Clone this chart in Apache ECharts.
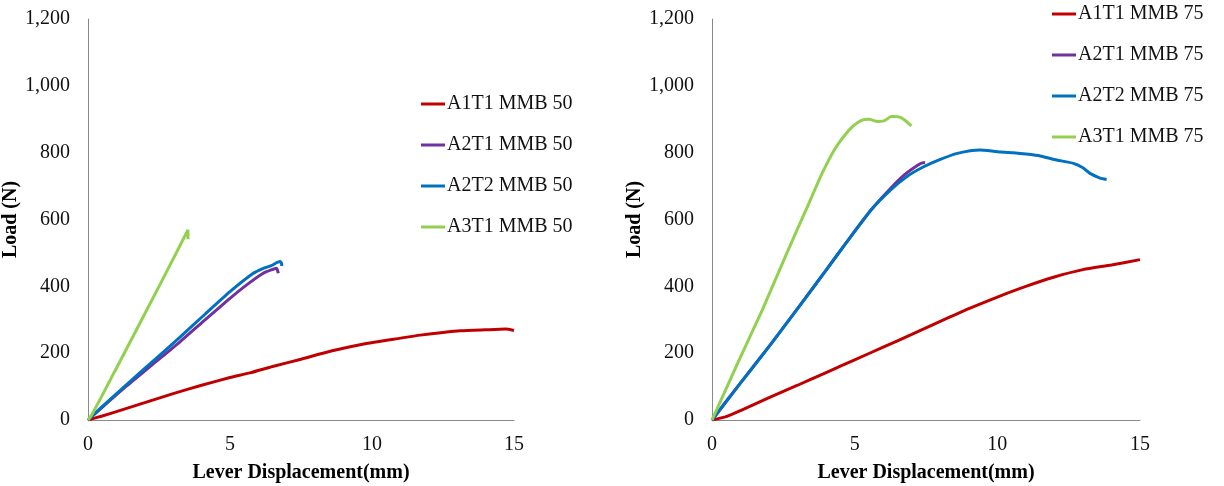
<!DOCTYPE html>
<html>
<head>
<meta charset="utf-8">
<script src="https://cdn.jsdelivr.net/npm/echarts@6/dist/echarts.min.js"></script>
<style>html,body{margin:0;padding:0;background:#fff}#c{width:1224px;height:486px}</style>
</head>
<body>
<div id="c"></div>
<script>
// ---- data ----
var xTicks = [0, 5, 10, 15];
var yTicks = [0, 200, 400, 600, 800, 1000, 1200];
var names50 = ['A1T1 MMB 50', 'A2T1 MMB 50', 'A2T2 MMB 50', 'A3T1 MMB 50'];
var names75 = ['A1T1 MMB 75', 'A2T1 MMB 75', 'A2T2 MMB 75', 'A3T1 MMB 75'];

var a1t1_50 = [[0,0],[0.5,12],[1,25],[2,52],[3,79],[4,104],[5,127],[5.7,141],[6.5,160],[7.5,182],[8.6,207],[9.8,229],[11,245],[11.7,254],[12.5,262],[13.1,267],[14,270],[14.7,272],[15,268]];
var a2t1_50 = [[0,0],[0.5,38],[1.36,102],[2.3,168],[3.24,234],[4.1,298],[5.0,364],[5.6,405],[6.17,439],[6.45,449],[6.64,454],[6.7,439]];
var a2t2_50 = [[0,0],[0.5,40],[1.36,106],[2.3,177],[3.24,248],[4.1,315],[5.0,384],[5.82,439],[6.17,454],[6.45,462],[6.76,474],[6.82,468],[6.82,461]];
var a3t1_50 = [[0,0],[0.15,18],[1,155],[2,318],[3,482],[3.52,569],[3.52,541]];

var a1t1_75 = [[0,0],[0.5,10],[1,28],[2,67],[3,104],[4,142],[5,180],[6,218],[7,256],[8,295],[9,333],[10,368],[11,400],[12,428],[13,450],[14,464],[15,480]];
var a2t1_75 = [[0,0],[0.9,100],[2.07,228],[3.24,361],[3.96,444],[4.7,530],[5.58,629],[6.28,695],[6.75,734],[7.22,763],[7.39,770],[7.47,770]];
var a2t2_75 = [[0,0],[0.9,100],[2.07,228],[3.24,361],[3.96,444],[4.7,530],[5.58,629],[6.28,690],[6.82,728],[7.4,757],[8.0,780],[8.6,798],[9.39,808],[10.0,803],[10.56,800],[11.1,795],[11.5,790],[12.08,778],[12.67,768],[13.0,755],[13.25,738],[13.6,724],[13.83,720]];
var a3t1_75 = [[0,0],[0.9,170],[1.76,329],[2.6,495],[3.45,659],[3.87,740],[4.3,810],[4.63,850],[4.95,880],[5.22,896],[5.5,900],[5.8,893],[6.05,896],[6.28,908],[6.55,907],[6.75,898],[6.99,880]];

var colors = ['#C00000', '#7030A0', '#0070C0', '#92D050'];
var FONT = "'Liberation Serif','Times New Roman',serif";

function xAxis(idx, gap) {
  return {
    type: 'value', gridIndex: idx, min: 0, max: 15, interval: 5,
    name: 'Lever Displacement(mm)', nameLocation: 'middle', nameGap: gap,
    nameTextStyle: {fontFamily: FONT, fontSize: 20, fontWeight: 'bold', color: '#000'},
    axisLine: {show: true, lineStyle: {color: '#898989', width: 1}},
    axisTick: {show: false}, splitLine: {show: false},
    axisLabel: {fontFamily: FONT, fontSize: 20, color: '#111', margin: 15}
  };
}
function yAxis(idx, gap) {
  return {
    type: 'value', gridIndex: idx, min: 0, max: 1200, interval: 200,
    name: 'Load (N)', nameLocation: 'middle', nameGap: gap, nameRotate: 90,
    nameTextStyle: {fontFamily: FONT, fontSize: 20, fontWeight: 'bold', color: '#000'},
    axisLine: {show: true, lineStyle: {color: '#898989', width: 1}},
    axisTick: {show: false}, splitLine: {show: false},
    axisLabel: {fontFamily: FONT, fontSize: 20, color: '#111', margin: 18,
      formatter: function (v) { return v.toLocaleString('en-US'); }}
  };
}
function line(name, data, ci, idx) {
  return {
    type: 'line', name: name, data: data, xAxisIndex: idx, yAxisIndex: idx,
    showSymbol: false, symbol: 'none', smooth: 0.2,
    lineStyle: {color: colors[ci], width: 3}, itemStyle: {color: colors[ci]}
  };
}

var chart = echarts.init(document.getElementById('c'));
chart.setOption({
  animation: false,
  backgroundColor: '#fff',
  grid: [
    {left: 88, top: 19, width: 426, height: 401, outerBoundsMode: 'none', containLabel: false},
    {left: 712, top: 19, width: 428, height: 401, outerBoundsMode: 'none', containLabel: false}
  ],
  xAxis: [xAxis(0, 43), xAxis(1, 43)],
  yAxis: [yAxis(0, 54), yAxis(1, 43)],
  legend: [
    {data: names50, orient: 'vertical', left: 421, top: 94, padding: 0, itemGap: 21, icon: 'rect',
     itemWidth: 24, itemHeight: 3,
     textStyle: {fontFamily: FONT, fontSize: 20, color: '#111', lineHeight: 20, padding: [0,0,0,-3]}},
    {data: names75, orient: 'vertical', left: 1052, top: 4, padding: 0, itemGap: 21, icon: 'rect',
     itemWidth: 24, itemHeight: 3,
     textStyle: {fontFamily: FONT, fontSize: 20, color: '#111', lineHeight: 20, padding: [0,0,0,-3]}}
  ],
  series: [
    line(names50[0], a1t1_50, 0, 0),
    line(names50[1], a2t1_50, 1, 0),
    line(names50[2], a2t2_50, 2, 0),
    line(names50[3], a3t1_50, 3, 0),
    line(names75[0], a1t1_75, 0, 1),
    line(names75[1], a2t1_75, 1, 1),
    line(names75[2], a2t2_75, 2, 1),
    line(names75[3], a3t1_75, 3, 1)
  ]
});
</script>
</body>
</html>
